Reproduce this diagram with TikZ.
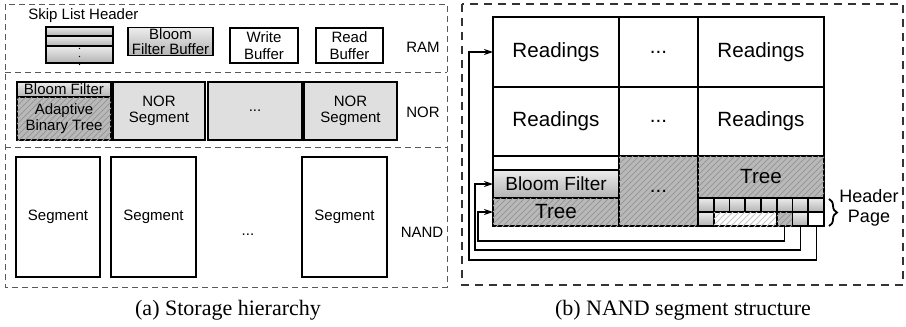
\documentclass[tikz,border=0pt]{standalone}
\usepackage{fontspec}
\setmainfont{Liberation Serif}
\setsansfont{Liberation Sans}
\usetikzlibrary{arrows.meta, patterns, decorations.pathreplacing}

\begin{document}
\begin{tikzpicture}[x=0.5pt, y=-0.5pt,
  box/.style={draw, line width=0.6pt, inner sep=1pt, outer sep=0pt,
    font=\sffamily\fontsize{7.5}{8.3}\selectfont, align=center},
  grad/.style={top color=gray!15, bottom color=gray!60},
  hatched/.style={fill=gray!55, postaction={pattern=north east lines, pattern color=gray!80}},
  lighthatch/.style={fill=white, postaction={pattern=north east lines, pattern color=gray!45}},
  norbox/.style={box, fill=gray!25},
  cell/.style={draw, line width=0.9pt, inner sep=1pt, outer sep=0pt,
    font=\sffamily\fontsize{10.3}{12}\selectfont, align=center},
  hcell/.style={cell, grad, minimum width=7.875pt, minimum height=7pt},
  lbl/.style={font=\sffamily\fontsize{7.5}{9}\selectfont, inner sep=0pt},
  captext/.style={font=\fontsize{11}{13}\selectfont, inner sep=0pt},
  leftdash/.style={draw=gray!70!black, line width=0.5pt, dash pattern=on 3pt off 2pt},
  rightdash/.style={draw=black!80, line width=0.9pt, dash pattern=on 4pt off 3pt},
  link/.style={line width=0.6pt, -{Stealth[length=4.5pt, width=3pt]}}
]
  \useasboundingbox (0,0) rectangle (906,327);

  % (a) storage hierarchy
  \draw[leftdash] (5,4) rectangle (447,287);
  \draw[leftdash] (5,72) -- (447,72);
  \draw[leftdash] (5,147) -- (447,147);

  \node[lbl, anchor=west] (skiph) at (28,16) {Skip List Header};
  \node[box, grad, minimum width=33.5pt, minimum height=4.5pt] (sk1) at (79.5,31.5) {};
  \node[box, grad, minimum width=33.5pt, minimum height=5pt] (sk2) at (79.5,41) {};
  \node[box, grad, minimum width=33.5pt, minimum height=8.5pt] (sk3) at (79.5,54.5) {};
  \node[inner sep=0pt, font=\fontsize{6}{6}\selectfont] (skdots) at (79.5,51) {$\vdots$};
  \node[box, grad, minimum width=42.5pt, minimum height=13.5pt, inner sep=0.5pt,
    font=\sffamily\fontsize{7.5}{7.5}\selectfont] (bfbuf) at (170.5,41.5) {Bloom\\Filter Buffer};
  \node[box, minimum width=34pt, minimum height=17.5pt] (wbuf) at (264,45.5) {Write\\Buffer};
  \node[box, minimum width=33.5pt, minimum height=17.5pt] (rbuf) at (349.5,45.5) {Read\\Buffer};
  \node[lbl] (ram) at (423,47) {RAM};

  \node[box, grad, minimum width=47pt, minimum height=7.5pt, inner sep=0.3pt] (nbloom) at (64,89.5) {Bloom Filter};
  \node[box, hatched, minimum width=47pt, minimum height=21.5pt] (abt) at (64,118.5) {Adaptive\\Binary Tree};
  \node[norbox, minimum width=46pt, minimum height=29pt] (nor1) at (159,111) {NOR\\Segment};
  \node[norbox, minimum width=47pt, minimum height=29pt] (nor2) at (255,111) {...};
  \node[norbox, minimum width=46.5pt, minimum height=29pt] (nor3) at (350.5,111) {NOR\\Segment};
  \node[lbl] (norl) at (423,112) {NOR};

  \node[box, minimum width=42pt, minimum height=60pt] (seg1) at (58,217) {Segment};
  \node[box, minimum width=42.5pt, minimum height=60pt] (seg2) at (153.5,217) {Segment};
  \node[box, minimum width=42.5pt, minimum height=60pt] (seg3) at (344.5,217) {Segment};
  \node[lbl] (segdots) at (248,235) {...};
  \node[lbl] (nand) at (422,232) {NAND};
  \node[captext] (capa) at (228,310) {(a) Storage hierarchy};

  % (b) NAND segment structure
  \draw[rightdash] (462,4) rectangle (903,285);

  \node[cell, minimum width=63pt, minimum height=35pt] (read1) at (556,52) {Readings};
  \node[cell, minimum width=39.5pt, minimum height=35pt] (rdots1) at (658.5,52) {...};
  \node[cell, minimum width=63pt, minimum height=35pt] (read2) at (761,52) {Readings};
  \node[cell, minimum width=63pt, minimum height=34.5pt] (read3) at (556,121.5) {Readings};
  \node[cell, minimum width=39.5pt, minimum height=34.5pt] (rdots2) at (658.5,121.5) {...};
  \node[cell, minimum width=63pt, minimum height=34.5pt] (read4) at (761,121.5) {Readings};

  \node[cell, minimum width=63pt, minimum height=7pt] (pfree) at (556,163) {};
  \node[cell, grad, minimum width=63pt, minimum height=14pt,
    font=\sffamily\fontsize{9.5}{11}\selectfont] (pbloom) at (556,184) {Bloom Filter};
  \node[cell, hatched, minimum width=63pt, minimum height=14pt] (ptree) at (556,212) {Tree};
  \node[cell, hatched, minimum width=39.5pt, minimum height=35pt] (pdots) at (658.5,191) {...};
  \node[cell, hatched, minimum width=63pt, minimum height=21pt] (htree) at (761,177) {Tree};

  % header page
  \foreach \i in {0,...,7}
    \node[hcell] (h\i) at ({705.875+15.75*\i},205) {};
  \node[hcell] (r0) at (705.875,219) {};
  \node[cell, lighthatch, minimum width=31.5pt, minimum height=7pt] (rl) at (745.25,219) {};
  \node[cell, hatched, minimum width=7.875pt, minimum height=7pt] (rt) at (784.625,219) {};
  \node[hcell] (rg) at (800.375,219) {};
  \node[cell, minimum width=7.875pt, minimum height=7pt] (rw) at (816.125,219) {};

  \draw[decorate, decoration={brace, amplitude=4pt}, line width=0.9pt] (829,199) -- (829,226);
  \node[font=\sffamily\fontsize{9}{10}\selectfont, align=center, inner sep=0pt] (hpage) at (869,208) {Header\\Page};

  \draw[link] (rt.south) -- ++(0,15) -| (478,212) -- (ptree.west);
  \draw[link] (rg.south) -- ++(0,24) -| (475,184) -- (pbloom.west);
  \draw[link] (rw.south) -- ++(0,34) -| (469,52) -- (read1.west);

  \node[captext] (capb) at (683,310) {(b) NAND segment structure};
\end{tikzpicture}
\end{document}
